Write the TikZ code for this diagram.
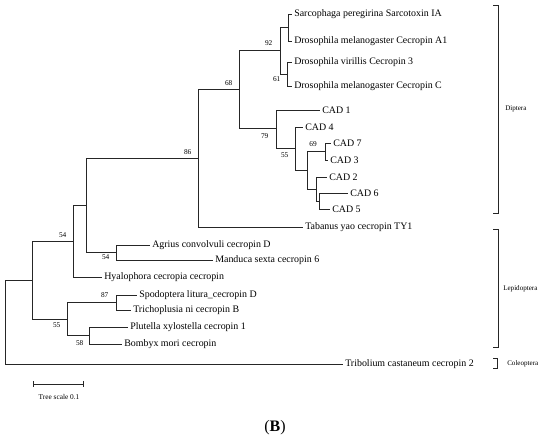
\documentclass[tikz,border=0pt]{standalone}
\usepackage{fontspec}
\setmainfont{Liberation Serif}
\usetikzlibrary{arrows.meta,positioning}
\tikzset{
  br/.style={line width=0.6pt, draw=black!85},
  leaf/.style={anchor=west, inner sep=1.5pt, font=\fontsize{7.45}{8}\selectfont},
  bs/.style={inner sep=1pt, font=\fontsize{5.5}{6}\selectfont},
  grp/.style={anchor=west, inner sep=0pt, font=\fontsize{5.3}{6}\selectfont},
  sbar/.style={br, {Bar[width=4.5pt]}-{Bar[width=4.5pt]}},
}

\begin{document}
\begin{tikzpicture}[x=0.75pt, y=-0.75pt]
\useasboundingbox (0,0) rectangle (550,445);
% internal nodes
\coordinate (root) at (5,322);
\coordinate (nB) at (32,280);
\coordinate (n54u) at (73,241);
\coordinate (nA) at (86,205);
\coordinate (n54l) at (116,252.5);
\coordinate (n86) at (198,158);
\coordinate (n68) at (239,89);
\coordinate (n92) at (280,50.5);
\coordinate (n92a) at (288,27.5);
\coordinate (n61) at (287,74);
\coordinate (n79) at (276,128.5);
\coordinate (n55c) at (295,148);
\coordinate (nX) at (307,170);
\coordinate (n69) at (325,151.5);
\coordinate (nY) at (316,189);
\coordinate (nZ) at (319,201);
\coordinate (n55) at (67,319);
\coordinate (n87) at (116,302.5);
\coordinate (n58) at (89,335.5);
% leaves
\node[leaf] (sarc) at (292,14) {Sarcophaga peregirina Sarcotoxin IA};
\node[leaf] (dmela) at (292,41) {Drosophila melanogaster Cecropin A1};
\node[leaf] (dvir) at (292,62) {Drosophila virillis Cecropin 3};
\node[leaf] (dmelc) at (292,86) {Drosophila melanogaster Cecropin C};
\node[leaf] (cad1) at (320,110) {CAD 1};
\node[leaf] (cad4) at (303,127) {CAD 4};
\node[leaf] (cad7) at (331,143) {CAD 7};
\node[leaf] (cad3) at (328,160) {CAD 3};
\node[leaf] (cad2) at (327,177) {CAD 2};
\node[leaf] (cad6) at (348,193) {CAD 6};
\node[leaf] (cad5) at (330,209) {CAD 5};
\node[leaf] (taba) at (303,227) {Tabanus yao cecropin TY1};
\node[leaf] (agri) at (150,245) {Agrius convolvuli cecropin D};
\node[leaf] (mand) at (213,260) {Manduca sexta cecropin 6};
\node[leaf] (hyal) at (102,277) {Hyalophora cecropia cecropin};
\node[leaf] (spod) at (137,295) {Spodoptera litura\_cecropin D};
\node[leaf] (tric) at (131,310) {Trichoplusia ni cecropin B};
\node[leaf] (plut) at (128,327) {Plutella xylostella cecropin 1};
\node[leaf] (bomb) at (122,344) {Bombyx mori cecropin};
\node[leaf] (trib) at (343,364) {Tribolium castaneum cecropin 2};
% branches
\draw[br] (root) |- (nB);
\draw[br] (root) |- (trib.west);
\draw[br] (nB) |- (n54u);
\draw[br] (nB) |- (n55);
\draw[br] (n54u) |- (nA);
\draw[br] (n54u) |- (hyal.west);
\draw[br] (nA) |- (n86);
\draw[br] (nA) |- (n54l);
\draw[br] (n54l) |- (agri.west);
\draw[br] (n54l) |- (mand.west);
\draw[br] (n86) |- (n68);
\draw[br] (n86) |- (taba.west);
\draw[br] (n68) |- (n92);
\draw[br] (n68) |- (n79);
\draw[br] (n92) |- (n92a);
\draw[br] (n92) |- (n61);
\draw[br] (n92a) |- (sarc.west);
\draw[br] (n92a) |- (dmela.west);
\draw[br] (n61) |- (dvir.west);
\draw[br] (n61) |- (dmelc.west);
\draw[br] (n79) |- (cad1.west);
\draw[br] (n79) |- (n55c);
\draw[br] (n55c) |- (cad4.west);
\draw[br] (n55c) |- (nX);
\draw[br] (nX) |- (n69);
\draw[br] (nX) |- (nY);
\draw[br] (n69) |- (cad7.west);
\draw[br] (n69) |- (cad3.west);
\draw[br] (nY) |- (cad2.west);
\draw[br] (nY) |- (nZ);
\draw[br] (nZ) |- (cad6.west);
\draw[br] (nZ) |- (cad5.west);
\draw[br] (n55) |- (n87);
\draw[br] (n55) |- (n58);
\draw[br] (n87) |- (spod.west);
\draw[br] (n87) |- (tric.west);
\draw[br] (n58) |- (plut.west);
\draw[br] (n58) |- (bomb.west);
% bootstrap values
\node[bs, above left=2.2pt and 4.5pt of n92] {92};
\node[bs, below left=1pt and 3.8pt of n61] {61};
\node[bs, above left=1pt and 3.8pt of n68] {68};
\node[bs, above left=1.5pt and 3.8pt of n86] {86};
\node[bs, below left=2.5pt and 4.5pt of n79] {79};
\node[bs, below left=2.2pt and 3.8pt of n55c] {55};
\node[bs, above left=2.2pt and 5pt of n69] {69};
\node[bs, above left=1pt and 3.8pt of n54u] {54};
\node[bs, below left=0.5pt and 3.8pt of n54l] {54};
\node[bs, above left=2.5pt and 4.5pt of n87] {87};
\node[bs, below left=1.5pt and 3.8pt of n55] {55};
\node[bs, below left=2.5pt and 3pt of n58] {58};
% clade brackets
\draw[br] (493,5) -- (498,5) -- (498,213) -- (493,213);
\node[grp] (dip) at (505,109) {Diptera};
\draw[br] (493,229) -- (498,229) -- (498,347) -- (493,347);
\node[grp] (lep) at (503,289) {Lepidoptera};
\draw[br] (493,358) -- (497,358) -- (497,368) -- (493,368);
\node[grp] (col) at (507,364) {Coleoptera};
% scale bar
\coordinate (sb1) at (33,384);
\coordinate (sb2) at (84,384);
\draw[sbar] (sb1) -- (sb2);
\node[bs] (sclbl) at (59,397) {Tree scale 0.1};
\node[font=\fontsize{12}{14}\selectfont] (panel) at (275,428) {(\textbf{B})};
\end{tikzpicture}
\end{document}
